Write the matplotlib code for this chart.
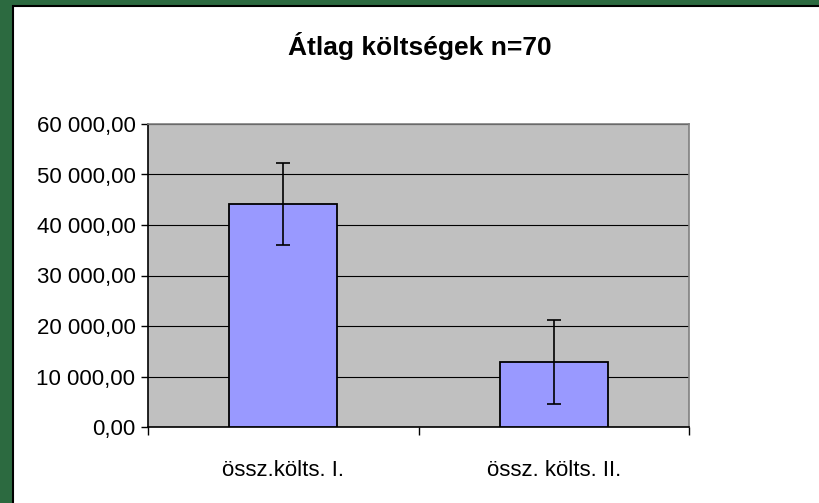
import numpy as np
import matplotlib
matplotlib.use("Agg")
import matplotlib.pyplot as plt
from matplotlib.patches import Rectangle
from matplotlib.ticker import FuncFormatter, MultipleLocator

# Data
categories = ["össz.költs. I.", "össz. költs. II."]
means = [44200, 12800]
errors = [8100, 8300]
title = "Átlag költségek n=70"

plt.rcParams['font.family'] = ['Liberation Sans', 'DejaVu Sans']

W, H = 819, 503
fig = plt.figure(figsize=(W / 100, H / 100), dpi=100)
fig.patch.set_facecolor('#2c6a40')

# white chart area with black edge on left/top
fig.patches.append(Rectangle((12.5 / W, -0.01), (W - 12.5) / W + 0.01, (H - 6.5) / H + 0.01,
                             transform=fig.transFigure, facecolor='white',
                             edgecolor='black', linewidth=1.5, zorder=-1))

ax = fig.add_axes([148 / W, (H - 427) / H, 541 / W, 303 / H])
ax.set_zorder(2)
ax.set_facecolor('#c0c0c0')

x = np.arange(len(categories))
ax.bar(x, means, width=0.4, color='#9999ff', edgecolor='black', linewidth=1.3, zorder=3)
ax.errorbar(x, means, yerr=errors, fmt='none', ecolor='black', elinewidth=1.2,
            capsize=5, capthick=1.2, zorder=4)

ax.set_xlim(-0.5, 1.5)
ax.set_ylim(0, 60000)
ax.yaxis.set_major_locator(MultipleLocator(10000))
ax.yaxis.set_major_formatter(FuncFormatter(
    lambda v, p: f"{v:,.2f}".replace(',', ' ').replace('.', ',')))
ax.yaxis.grid(True, color='black', linewidth=0.8, zorder=1)
ax.set_axisbelow(True)

# category ticks at boundaries, labels at centers
ax.set_xticks([-0.5, 0.5, 1.5])
ax.set_xticklabels([])
ax.set_xticks(x, minor=True)
ax.set_xticklabels(categories, minor=True)
ax.tick_params(axis='x', which='major', length=6, width=1, direction='out', colors='black')
ax.tick_params(axis='x', which='minor', length=0, pad=24, labelsize=16)
ax.tick_params(axis='y', length=5, width=1, direction='out', pad=4, labelsize=16)

for s in ['left', 'bottom']:
    ax.spines[s].set_color('black')
    ax.spines[s].set_linewidth(1.2)
for s in ['top', 'right']:
    ax.spines[s].set_color('#808080')
    ax.spines[s].set_linewidth(1.2)

fig.text(420 / W, 1 - 46 / H, title, ha='center', va='center',
         fontsize=19, fontweight='bold')

fig.savefig("out.png", dpi=100, facecolor=fig.get_facecolor())
